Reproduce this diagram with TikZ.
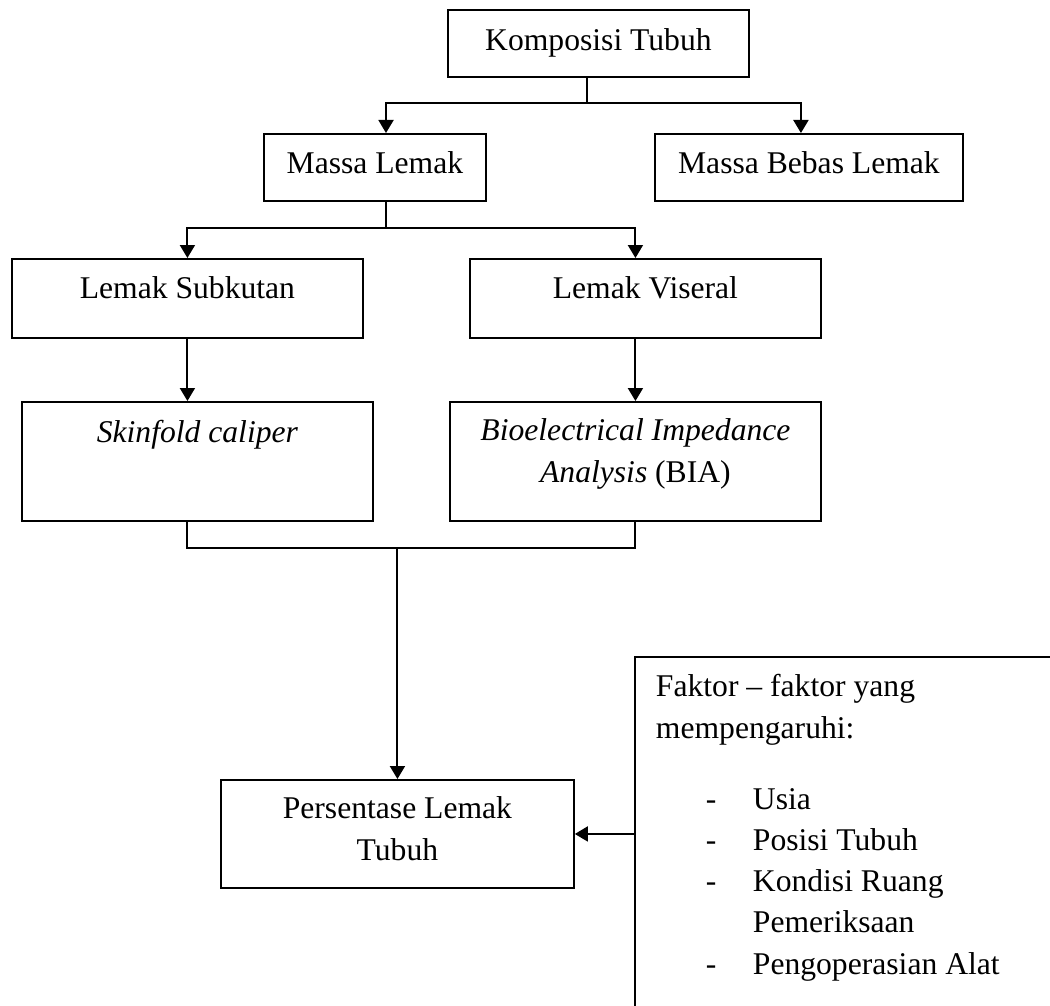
\documentclass[tikz,border=0pt]{standalone}
\usepackage{fontspec}
\setmainfont{Liberation Serif}
\usetikzlibrary{arrows.meta}
\tikzset{
  box/.style={draw, inner sep=0pt, align=flush center, anchor=north west,
    font=\fontsize{18}{23.5}\selectfont},
  arr/.style={-{Triangle[width=0.3cm,length=0.26cm]}}
}
\begin{document}
\begin{tikzpicture}[x=0.02cm, y=-0.02cm, line width=1.1pt]
      \useasboundingbox (0,0) rectangle (1050,1006);
      \clip (0,0) rectangle (1050,1006);
      \draw
        (447,9) node[box, text width=6.02cm, text height=0.82cm, text depth=0.52cm] (komp) {Komposisi Tubuh}
        (263,133) node[box, text width=4.44cm, text height=0.8cm, text depth=0.54cm] (ml) {Massa Lemak}
        (654,133) node[box, text width=6.16cm, text height=0.8cm, text depth=0.54cm] (mbl) {Massa Bebas Lemak}
        (11,258) node[box, text width=7.02cm, text height=0.8cm, text depth=0.78cm] (sub) {Lemak Subkutan}
        (469,258) node[box, text width=7.02cm, text height=0.8cm, text depth=0.78cm] (vis) {Lemak Viseral}
        (21,401) node[box, text width=7.02cm, text height=0.82cm, text depth=1.56cm] (skin) {\textit{Skinfold caliper}}
        (449,401) node[box, text width=7.42cm, text height=0.78cm, text depth=1.6cm] (bia) {\textit{Bioelectrical Impedance}\\ \textit{Analysis} (BIA)}
        (220,779) node[box, text width=7.06cm, text height=0.78cm, text depth=1.38cm] (pers) {Persentase Lemak\\ Tubuh}
        (634,656) node[box, align=flush left, inner xsep=0.42cm, text width=10cm, text height=0.8cm, text depth=8cm] (fak)
          {Faktor – faktor yang\\ mempengaruhi:\\[0.59cm]
           \hspace*{1cm}\makebox[0.94cm][l]{-}Usia\\
           \hspace*{1cm}\makebox[0.94cm][l]{-}Posisi Tubuh\\
           \hspace*{1cm}\makebox[0.94cm][l]{-}Kondisi Ruang\\
           \hspace*{1.94cm}Pemeriksaan\\
           \hspace*{1cm}\makebox[0.94cm][l]{-}Pengoperasian Alat};
      \coordinate (j1) at (587,103);
      \coordinate (j2) at (386,228);
      \coordinate (j3) at (400,548);
      \begin{scope}[arr]
        \draw[-] (komp.south -| j1) to (j1);
        \draw (j1) -| (ml.north -| j2);
        \draw (j1) -| ([xshift=-0.16cm]mbl.north);
        \draw[-] (ml.south -| j2) to (j2);
        \draw (j2) -| (sub.north);
        \draw (j2) -| (vis.north -| bia.north);
        \draw (sub.south) to (skin.north -| sub.south);
        \draw (vis.south -| bia.north) to (bia.north);
        \draw[-] (skin.south -| sub.south) |- (j3) -| (bia.south);
        \draw (pers.north |- j3) to (pers.north);
        \draw (fak.west |- pers.east) to (pers.east);
      \end{scope}
    \end{tikzpicture}
\end{document}
